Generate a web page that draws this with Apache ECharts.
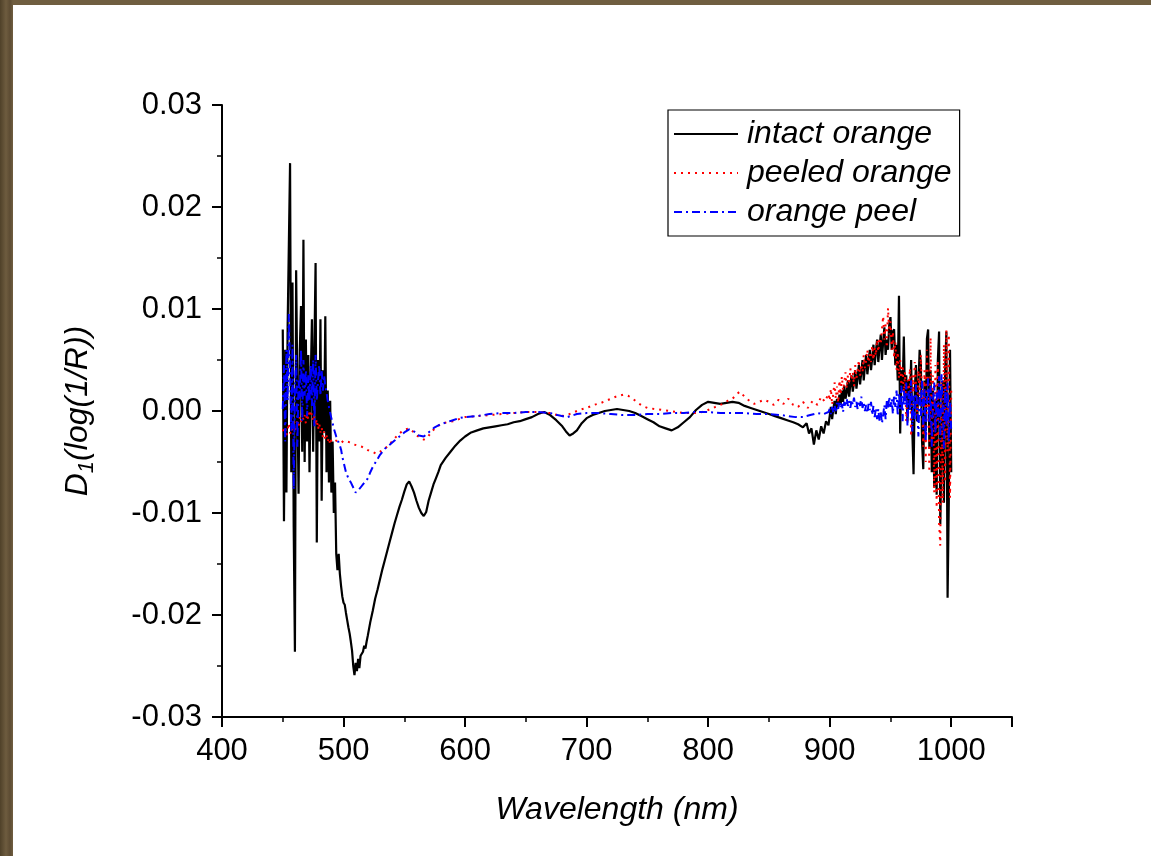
<!DOCTYPE html>
<html>
<head>
<meta charset="utf-8">
<script src="https://cdn.jsdelivr.net/npm/echarts@6/dist/echarts.min.js"></script>
<style>
  html, body { margin: 0; padding: 0; width: 1151px; height: 856px; overflow: hidden; }
  body { background: linear-gradient(90deg, #4f4129 0px, #6e5c3f 6px, #5d4c33 10px, #705e40 13px); }
  #panel { position: absolute; left: 13px; top: 5px; right: 0; bottom: 0; background: #ffffff; }
  #chart { position: absolute; left: 0; top: 0; width: 1151px; height: 856px; }
</style>
</head>
<body>
<div id="panel"></div>
<div id="chart"></div>
<script>
// legend names
var seriesNames = ['intact orange', 'peeled orange', 'orange peel'];

// noisy ends: one value per nm from these wavelengths
var startLow = 450;
var startHigh = 900;

// intact orange
var intactLow = [0.0080, -0.0108, 0.0060, -0.0080, 0.0083, 0.0163, 0.0243, -0.0060, 0.0126, -0.0114,
  -0.0236, 0.0138, 0.0020, -0.0081, 0.0060, 0.0103, -0.0040, 0.0168, -0.0050, 0.0070,
  -0.0030, 0.0055, -0.0060, 0.0030, 0.0090, -0.0040, 0.0060, 0.0145, -0.0129, 0.0050,
  -0.0030, 0.0090, -0.0088, 0.0040, -0.0020, 0.0093, -0.0060, 0.0020, -0.0070, 0.0010,
  -0.0080, -0.0030, -0.0100, -0.0070, -0.0140, -0.0156, -0.0140, -0.0160, -0.0172, -0.0182,
  -0.0188, -0.0190, -0.0198, -0.0205, -0.0212, -0.0218, -0.0226, -0.0235, -0.0250, -0.0259,
  -0.0247, -0.0255, -0.0243, -0.0252, -0.0240, -0.0238, -0.0236, -0.0230, -0.0233, -0.0226,
  -0.0220];
var intactMid = [[522, -0.0207], [524, -0.0196], [526, -0.0184], [528, -0.0175], [530, -0.0165],
  [532, -0.0155], [534, -0.0146], [536, -0.0137], [538, -0.0128], [540, -0.0119], [542, -0.0110],
  [544, -0.0102], [546, -0.0094], [548, -0.0087], [550, -0.0079], [552, -0.0072], [554, -0.0069],
  [556, -0.0074], [558, -0.0080], [560, -0.0088], [562, -0.0095], [564, -0.0100], [566, -0.0103],
  [568, -0.0099], [570, -0.0088], [572, -0.0080], [574, -0.0072], [576, -0.0066], [578, -0.0060],
  [580, -0.0053], [584, -0.0046], [588, -0.0040], [592, -0.0034], [596, -0.0029], [600, -0.0025],
  [605, -0.0021], [610, -0.0019], [615, -0.0017], [620, -0.0016], [625, -0.0015], [630, -0.0014],
  [635, -0.0013], [640, -0.0011], [645, -0.0010], [650, -0.0008], [655, -0.0006], [660, -0.0003],
  [665, -0.0001], [670, -0.0004], [675, -0.0009], [680, -0.0015], [683, -0.0020], [686, -0.0024],
  [689, -0.0022], [692, -0.0019], [696, -0.0012], [700, -0.0007], [705, -0.0004], [710, -0.0002],
  [715, 0.0000], [720, 0.0001], [725, 0.0002], [730, 0.0001], [735, 0.0000], [740, -0.0002],
  [745, -0.0005], [750, -0.0008], [755, -0.0011], [760, -0.0015], [765, -0.0017], [770, -0.0019],
  [775, -0.0016], [780, -0.0011], [785, -0.0006], [790, 0.0001], [795, 0.0006], [800, 0.0009],
  [805, 0.0008], [810, 0.0007], [815, 0.0008], [820, 0.0009], [825, 0.0008], [830, 0.0005],
  [835, 0.0003], [840, 0.0001], [845, -0.0001], [850, -0.0003], [855, -0.0005], [860, -0.0007],
  [865, -0.0009], [870, -0.0011], [874, -0.0013], [878, -0.0016], [881, -0.0012], [883, -0.0022],
  [885, -0.0017], [887, -0.0033], [889, -0.0019], [891, -0.0028], [893, -0.0015], [895, -0.0022],
  [897, -0.0010], [899, -0.0014]];
var intactHigh = [-0.0005, 0.0004, -0.0008, 0.0002, 0.0010, -0.0003, 0.0012, 0.0004, 0.0016, 0.0006,
  0.0020, 0.0009, 0.0025, 0.0012, 0.0018, 0.0030, 0.0014, 0.0026, 0.0035, 0.0019,
  0.0028, 0.0040, 0.0022, 0.0033, 0.0045, 0.0026, 0.0038, 0.0050, 0.0030, 0.0044,
  0.0055, 0.0036, 0.0048, 0.0060, 0.0040, 0.0052, 0.0065, 0.0045, 0.0058, 0.0070,
  0.0048, 0.0062, 0.0075, 0.0050, 0.0068, 0.0082, 0.0055, 0.0070, 0.0060, 0.0085,
  0.0092, 0.0060, 0.0078, 0.0080, 0.0045, 0.0065, 0.0030, 0.0113, -0.0022, 0.0040,
  0.0020, 0.0073, 0.0010, 0.0035, -0.0010, 0.0030, 0.0005, 0.0050, -0.0020, -0.0062,
  0.0020, 0.0045, -0.0010, 0.0025, 0.0060, 0.0047, -0.0030, -0.0057, 0.0030, -0.0020,
  0.0071, 0.0080, -0.0037, 0.0040, -0.0060, 0.0020, -0.0075, 0.0010, -0.0082, 0.0050,
  0.0078, -0.0111, -0.0040, 0.0030, -0.0090, 0.0040, 0.0078, -0.0183, -0.0089, 0.0060,
  -0.0060];

// peeled orange
var peeledLow = [-0.0018, -0.0022, -0.0015, -0.0024, -0.0019, -0.0012, -0.0021, -0.0023, -0.0017, -0.0010,
  -0.0020, -0.0014, -0.0008, -0.0016, -0.0006, -0.0011, -0.0002, -0.0009, -0.0004, -0.0012,
  -0.0003, -0.0008, 0.0001, -0.0006, -0.0002, -0.0010, -0.0005, -0.0014, -0.0008, -0.0018,
  -0.0012, -0.0021, -0.0016, -0.0026, -0.0020, -0.0028, -0.0024, -0.0030, -0.0026, -0.0033,
  -0.0028];
var peeledMid = [[492, -0.0030], [494, -0.0029], [496, -0.0030], [498, -0.0029], [500, -0.0031],
  [503, -0.0030], [506, -0.0031], [509, -0.0033], [512, -0.0034], [515, -0.0035], [518, -0.0037],
  [521, -0.0039], [524, -0.0040], [527, -0.0042], [530, -0.0040], [533, -0.0037], [536, -0.0035],
  [539, -0.0031], [542, -0.0027], [545, -0.0023], [548, -0.0020], [551, -0.0018], [554, -0.0017],
  [557, -0.0020], [560, -0.0024], [563, -0.0026], [566, -0.0028], [569, -0.0026], [572, -0.0021],
  [576, -0.0016], [580, -0.0013], [585, -0.0011], [590, -0.0010], [595, -0.0008], [600, -0.0006],
  [610, -0.0005], [620, -0.0004], [630, -0.0003], [640, -0.0002], [650, -0.0001], [660, -0.0001],
  [670, -0.0002], [676, -0.0004], [682, -0.0005], [688, -0.0002], [694, 0.0001], [700, 0.0003],
  [706, 0.0006], [712, 0.0008], [718, 0.0011], [724, 0.0014], [730, 0.0016], [734, 0.0015],
  [738, 0.0012], [742, 0.0008], [746, 0.0005], [750, 0.0003], [756, 0.0002], [762, 0.0001],
  [768, 0.0000], [774, -0.0001], [780, -0.0002], [786, -0.0002], [792, -0.0002], [798, 0.0000],
  [804, 0.0003], [808, 0.0005], [812, 0.0007], [816, 0.0010], [820, 0.0012], [824, 0.0017],
  [826, 0.0019], [830, 0.0014], [834, 0.0010], [838, 0.0007], [842, 0.0009], [846, 0.0011],
  [850, 0.0009], [854, 0.0006], [858, 0.0011], [862, 0.0007], [866, 0.0012], [870, 0.0006],
  [874, 0.0004], [878, 0.0009], [882, 0.0003], [886, 0.0010], [890, 0.0006], [893, 0.0014],
  [896, 0.0009], [899, 0.0017]];
var peeledHigh = [0.0010, 0.0022, 0.0006, 0.0018, 0.0028, 0.0012, 0.0024, 0.0008, 0.0030, 0.0016,
  0.0034, 0.0020, 0.0028, 0.0038, 0.0022, 0.0035, 0.0026, 0.0042, 0.0030, 0.0038,
  0.0024, 0.0045, 0.0032, 0.0040, 0.0050, 0.0034, 0.0046, 0.0038, 0.0055, 0.0042,
  0.0050, 0.0060, 0.0044, 0.0056, 0.0048, 0.0064, 0.0050, 0.0062, 0.0054, 0.0070,
  0.0058, 0.0072, 0.0065, 0.0080, 0.0093, 0.0070, 0.0085, 0.0062, 0.0101, 0.0075,
  0.0088, 0.0060, 0.0078, 0.0052, 0.0068, 0.0040, 0.0058, 0.0032, 0.0050, 0.0025,
  0.0045, 0.0015, 0.0038, -0.0010, 0.0030, 0.0020, 0.0042, -0.0025, 0.0035, 0.0018,
  0.0048, 0.0025, -0.0005, 0.0040, 0.0015, 0.0055, 0.0010, -0.0035, 0.0040, -0.0050,
  0.0060, 0.0020, -0.0060, 0.0072, -0.0030, 0.0035, -0.0080, 0.0045, -0.0095, 0.0050,
  -0.0110, -0.0132, 0.0030, -0.0090, 0.0065, -0.0070, 0.0080, -0.0040, 0.0075, -0.0085,
  0.0020];

// orange peel
var peelLow = [0.0002, 0.0045, -0.0030, 0.0060, 0.0010, 0.0095, 0.0040, -0.0020, 0.0065, -0.0077,
  0.0020, 0.0055, -0.0035, 0.0030, 0.0012, 0.0060, -0.0010, 0.0050, 0.0015, 0.0040,
  -0.0005, 0.0035, 0.0010, 0.0045, 0.0005, 0.0050, -0.0015, 0.0055, 0.0010, 0.0030,
  0.0045, 0.0015, 0.0040, 0.0020, 0.0035, 0.0025, 0.0018, 0.0010, 0.0004, -0.0002,
  -0.0007, -0.0012, -0.0017, -0.0021, -0.0025, -0.0028, -0.0031, -0.0034, -0.0038, -0.0045,
  -0.0050];
var peelMid = [[502, -0.0060], [504, -0.0066], [506, -0.0070], [508, -0.0075], [510, -0.0080],
  [512, -0.0078], [514, -0.0075], [516, -0.0072], [518, -0.0069], [520, -0.0066], [522, -0.0060],
  [524, -0.0055], [526, -0.0051], [528, -0.0047], [530, -0.0043], [534, -0.0037], [538, -0.0033],
  [542, -0.0029], [546, -0.0025], [550, -0.0021], [554, -0.0018], [558, -0.0020], [562, -0.0024],
  [566, -0.0025], [570, -0.0021], [575, -0.0016], [580, -0.0013], [585, -0.0011], [590, -0.0009],
  [595, -0.0007], [600, -0.0006], [610, -0.0005], [620, -0.0003], [630, -0.0002], [640, -0.0002],
  [650, -0.0001], [660, -0.0001], [670, -0.0002], [676, -0.0004], [684, -0.0006], [692, -0.0003],
  [700, -0.0002], [710, -0.0002], [720, -0.0003], [730, -0.0004], [740, -0.0004], [750, -0.0003],
  [760, -0.0003], [770, -0.0002], [780, -0.0002], [790, -0.0001], [800, -0.0001], [810, -0.0002],
  [820, -0.0002], [830, -0.0002], [840, -0.0003], [850, -0.0003], [860, -0.0004], [866, -0.0005],
  [872, -0.0006], [878, -0.0006], [884, -0.0004], [890, -0.0002], [895, -0.0003], [899, -0.0001]];
var peelHigh = [0.0002, -0.0003, 0.0004, -0.0002, 0.0006, 0.0000, 0.0008, 0.0002, 0.0010, 0.0003,
  0.0007, -0.0001, 0.0009, 0.0004, 0.0012, 0.0005, 0.0010, 0.0003, 0.0011, 0.0006,
  0.0013, 0.0004, 0.0009, 0.0002, 0.0010, 0.0005, 0.0014, 0.0003, 0.0008, 0.0000,
  0.0006, -0.0002, 0.0007, 0.0001, 0.0009, -0.0004, 0.0005, -0.0006, 0.0003, -0.0008,
  0.0002, -0.0010, -0.0001, -0.0012, -0.0004, 0.0006, -0.0008, 0.0010, 0.0002, 0.0014,
  0.0004, 0.0012, -0.0003, 0.0016, 0.0004, 0.0020, -0.0005, 0.0018, 0.0002, 0.0025,
  -0.0010, 0.0022, 0.0006, 0.0028, -0.0015, 0.0020, 0.0000, 0.0030, -0.0020, 0.0015,
  -0.0008, 0.0026, 0.0004, -0.0025, 0.0018, -0.0005, 0.0030, -0.0018, 0.0022, -0.0030,
  0.0012, 0.0032, -0.0012, 0.0025, -0.0035, 0.0010, 0.0028, -0.0022, 0.0018, -0.0010,
  0.0034, -0.0028, 0.0036, 0.0005, -0.0037, 0.0022, -0.0015, 0.0028, -0.0030, 0.0010,
  -0.0020];

// axis ticks
var xTicks = { min: 400, max: 1050, step: 100 };
var yTicks = { min: -0.03, max: 0.03, step: 0.01 };

function joinSeries(low, mid, high) {
  var out = [];
  low.forEach(function (v, i) { out.push([startLow + i, v]); });
  mid.forEach(function (p) { out.push(p); });
  high.forEach(function (v, i) { out.push([startHigh + i, v]); });
  return out;
}

var font = '"Liberation Sans", Arial, sans-serif';
var chart = echarts.init(document.getElementById('chart'), null, { renderer: 'canvas' });

var option = {
  animation: false,
  backgroundColor: 'transparent',
  grid: { left: 222, right: 139, top: 105, bottom: 139 },
  legend: {
    orient: 'vertical',
    left: 668,
    top: 110,
    padding: [8, 8, 8, 5],
    itemGap: 7,
    itemWidth: 64,
    itemHeight: 20,
    borderColor: '#000',
    borderWidth: 1.2,
    backgroundColor: '#fff',
    itemStyle: { opacity: 0 },
    textStyle: { fontSize: 32, fontStyle: 'italic', fontFamily: font, color: '#000', padding: [0, 0, 0, 4] },
    data: seriesNames
  },
  xAxis: {
    type: 'value',
    min: xTicks.min,
    max: xTicks.max,
    interval: xTicks.step,
    name: 'Wavelength (nm)',
    nameLocation: 'middle',
    nameGap: 77,
    nameTextStyle: { fontSize: 32, fontStyle: 'italic', fontFamily: font, color: '#000' },
    axisLine: { onZero: false, lineStyle: { color: '#000', width: 2 } },
    axisTick: { inside: false, length: 10, lineStyle: { color: '#000', width: 2 } },
    minorTick: { show: true, splitNumber: 2, length: 5, lineStyle: { color: '#000', width: 1.5 } },
    splitLine: { show: false },
    axisLabel: {
      fontSize: 31, fontFamily: font, color: '#000', margin: 19, showMaxLabel: false,
      formatter: function (v) { return String(v); }
    }
  },
  yAxis: {
    type: 'value',
    min: yTicks.min,
    max: yTicks.max,
    interval: yTicks.step,
    name: '{i|D}{s|1}{i|(log(1/R))}',
    nameLocation: 'middle',
    nameGap: 124,
    nameTextStyle: {
      color: '#000',
      rich: {
        i: { fontSize: 32, fontStyle: 'italic', fontFamily: font, color: '#000', lineHeight: 40 },
        s: { fontSize: 22, fontStyle: 'italic', fontFamily: font, color: '#000', lineHeight: 22, verticalAlign: 'bottom' }
      }
    },
    axisLine: { show: true, onZero: false, lineStyle: { color: '#000', width: 2 } },
    axisTick: { show: true, inside: false, length: 10, lineStyle: { color: '#000', width: 2 } },
    minorTick: { show: true, splitNumber: 2, length: 5, lineStyle: { color: '#000', width: 1.5 } },
    splitLine: { show: false },
    axisLabel: {
      fontSize: 31, fontFamily: font, color: '#000', margin: 20,
      formatter: function (v) { return v.toFixed(2); }
    }
  },
  series: [
    {
      name: seriesNames[0], type: 'line', symbol: 'none', z: 2,
      data: joinSeries(intactLow, intactMid, intactHigh),
      lineStyle: { color: '#000000', width: 2.2, type: 'solid' },
      itemStyle: { color: '#000000' }
    },
    {
      name: seriesNames[1], type: 'line', symbol: 'none', z: 3,
      data: joinSeries(peeledLow, peeledMid, peeledHigh),
      lineStyle: { color: '#ff0000', width: 2, type: [2, 5] },
      itemStyle: { color: '#ff0000' }
    },
    {
      name: seriesNames[2], type: 'line', symbol: 'none', z: 4,
      data: joinSeries(peelLow, peelMid, peelHigh),
      lineStyle: { color: '#0000ff', width: 2, type: [8, 4, 2, 4] },
      itemStyle: { color: '#0000ff' }
    }
  ]
};

chart.setOption(option);
</script>
</body>
</html>
